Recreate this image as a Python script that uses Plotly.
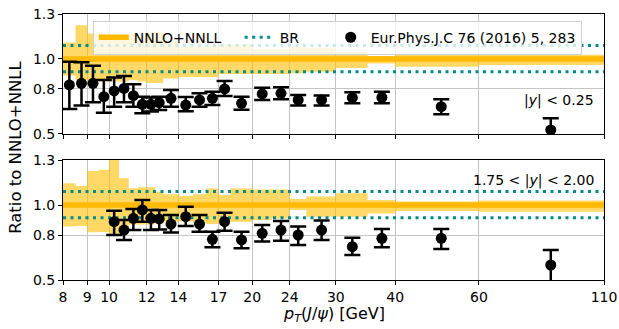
import plotly.graph_objects as go

# ---------------- data ----------------
bin_edges = [8, 8.5, 9, 9.5, 10, 10.5, 11, 11.5, 12, 12.5, 13, 14, 15, 16, 17, 18,
             20, 22, 24, 26, 30, 35, 40, 60, 110]

# theory band (ratio to central NNLO+NNLL), per bin
top_band_up = [1.11, 1.225, 1.17, 1.17, 1.16, 1.16, 1.17, 1.15, 1.18, 1.18, 1.12, 1.08,
               1.08, 1.08, 1.10, 1.10, 1.065, 1.065, 1.08, 1.075, 1.045, 1.02, 1.028, 1.028]
top_band_lo = [0.89, 0.86, 0.85, 0.85, 0.85, 0.85, 0.86, 0.85, 0.84, 0.84, 0.87, 0.88,
               0.88, 0.88, 0.90, 0.90, 0.90, 0.90, 0.905, 0.915, 0.94, 0.97, 0.948, 0.96]
bot_band_up = [1.145, 1.127, 1.227, 1.236, 1.32, 1.178, 1.111, 1.118, 1.118, 1.089, 1.071, 1.062,
               1.071, 1.11, 1.067, 1.11, 1.104, 1.104, 1.04, 1.056, 1.078, 1.033, 1.023, 1.03]
bot_band_lo = [0.856, 0.86, 0.818, 0.82, 0.80, 0.84, 0.87, 0.87, 0.87, 0.89, 0.89, 0.89,
               0.88, 0.873, 0.89, 0.889, 0.90, 0.91, 0.967, 0.922, 0.922, 0.944, 0.96, 0.955]

br_up = 1.09
br_lo = 0.915

# data: |y| < 0.25
top_pt = [8.25, 8.75, 9.25, 9.75, 10.25, 10.75, 11.25, 11.75, 12.25, 12.75, 13.5, 14.5,
          15.5, 16.5, 17.5, 19, 21, 23, 25, 28, 32.5, 37.5, 50, 85]
top_val = [0.827, 0.838, 0.838, 0.749, 0.787, 0.804, 0.755, 0.698, 0.698, 0.709, 0.738, 0.693,
           0.727, 0.738, 0.800, 0.704, 0.767, 0.771, 0.727, 0.727, 0.742, 0.744, 0.682, 0.527]
top_hi = [0.982, 0.978, 0.955, 0.860, 0.876, 0.887, 0.831, 0.749, 0.744, 0.749, 0.793, 0.747,
          0.771, 0.782, 0.853, 0.749, 0.809, 0.811, 0.760, 0.756, 0.778, 0.782, 0.731, 0.604]
top_low = [0.667, 0.689, 0.711, 0.642, 0.682, 0.711, 0.682, 0.638, 0.649, 0.660, 0.682, 0.651,
           0.682, 0.693, 0.753, 0.662, 0.727, 0.731, 0.689, 0.689, 0.704, 0.704, 0.631, 0.42]

# data: 1.75 < |y| < 2.00
bot_pt = [10.25, 10.75, 11.25, 11.75, 12.25, 12.75, 13.5, 14.5, 15.5, 16.5, 17.5, 19,
          21, 23, 25, 28, 32.5, 37.5, 50, 85]
bot_val = [0.889, 0.833, 0.911, 0.967, 0.911, 0.907, 0.873, 0.922, 0.873, 0.771, 0.889, 0.767,
           0.811, 0.833, 0.800, 0.833, 0.722, 0.778, 0.778, 0.600]
bot_hi = [0.962, 0.900, 0.973, 1.033, 0.967, 0.967, 0.933, 0.989, 0.933, 0.822, 0.949, 0.822,
          0.867, 0.893, 0.856, 0.896, 0.782, 0.840, 0.840, 0.700]
bot_low = [0.800, 0.767, 0.833, 0.889, 0.833, 0.836, 0.816, 0.860, 0.822, 0.718, 0.829, 0.711,
           0.756, 0.762, 0.733, 0.767, 0.667, 0.718, 0.707, 0.45]

x_ticks = [8, 9, 10, 12, 14, 17, 20, 24, 30, 40, 60, 110]
y_ticks = [0.5, 0.8, 1.0, 1.3]
y_ticklabels = ["0.5", "0.8", "1.0", "1.3"]

# ---------------- styles ----------------
FONT = "DejaVu Sans"
BAND = "rgba(255,190,0,0.6)"
CENTRAL = "rgb(255,185,0)"
TEAL = "#008b8b"
NB = "\u00a0"

fig = go.Figure()


def add_panel(xa, ya, band_up, band_lo, pt, val, hi, low, legend):
    # band edges as step lines
    fig.add_trace(go.Scatter(x=bin_edges, y=band_lo + [band_lo[-1]], mode="lines",
                             line=dict(width=0, shape="hv", color=BAND),
                             xaxis=xa, yaxis=ya, showlegend=False, hoverinfo="skip"))
    fig.add_trace(go.Scatter(x=bin_edges, y=band_up + [band_up[-1]], mode="lines",
                             line=dict(width=0, shape="hv", color=BAND),
                             fill="tonexty", fillcolor=BAND,
                             xaxis=xa, yaxis=ya, showlegend=False, hoverinfo="skip"))
    fig.add_trace(go.Scatter(x=[bin_edges[0], bin_edges[-1]], y=[1.0, 1.0], mode="lines",
                             line=dict(width=5.5, color=CENTRAL), name="NNLO+NNLL" + NB * 3,
                             xaxis=xa, yaxis=ya, showlegend=legend))
    fig.add_trace(go.Scatter(x=[bin_edges[0], bin_edges[-1], None, bin_edges[0], bin_edges[-1]],
                             y=[br_up, br_up, None, br_lo, br_lo], mode="lines",
                             line=dict(width=3, color=TEAL, dash="3px,4.5px"), name="BR" + NB * 6,
                             xaxis=xa, yaxis=ya, showlegend=legend))
    fig.add_trace(go.Scatter(x=pt, y=val, mode="markers",
                             marker=dict(size=11, color="black"),
                             error_y=dict(type="data", symmetric=False,
                                          array=[h - v for h, v in zip(hi, val)],
                                          arrayminus=[v - l for v, l in zip(val, low)],
                                          color="black", thickness=2.5, width=8),
                             name="Eur.Phys.J.C 76 (2016) 5, 283",
                             xaxis=xa, yaxis=ya, showlegend=legend))


add_panel("x", "y", top_band_up, top_band_lo, top_pt, top_val, top_hi, top_low, True)
add_panel("x2", "y2", bot_band_up, bot_band_lo, bot_pt, bot_val, bot_hi, bot_low, False)

axis_common = dict(showline=True, linecolor="black", linewidth=1, mirror=True,
                   ticks="outside", ticklen=4, tickcolor="black",
                   showgrid=True, gridcolor="#c4c4c4", gridwidth=1, zeroline=False,
                   automargin=False,
                   tickfont=dict(family=FONT, size=14, color="black"))

xa_common = dict(type="log", range=[0.90309, 2.041393], tickvals=x_ticks,
                 ticktext=[str(t) for t in x_ticks], **axis_common)
ya_common = dict(range=[0.5, 1.3], tickvals=y_ticks, ticktext=y_ticklabels, **axis_common)

fig.update_layout(
    width=619, height=329,
    margin=dict(l=63, r=15, t=14, b=49, autoexpand=False),
    paper_bgcolor="white", plot_bgcolor="white",
    font=dict(family=FONT, size=14, color="black"),
    xaxis=dict(domain=[0, 1], anchor="y", showticklabels=False, matches="x2", **xa_common),
    yaxis=dict(domain=[0.549, 1.0], anchor="x", **ya_common),
    xaxis2=dict(domain=[0, 1], anchor="y2", **xa_common),
    yaxis2=dict(domain=[0, 0.451], anchor="x2", **ya_common),
    legend=dict(orientation="h", x=0.055, y=0.975, xanchor="left", yanchor="top",
                bgcolor="rgba(255,255,255,0.8)", bordercolor="#d0d0d0", borderwidth=1,
                font=dict(family=FONT, size=14), itemwidth=30, traceorder="normal"),
    showlegend=True,
    annotations=[
        dict(text="|<i>y</i>| &lt; 0.25", xref="x domain", yref="y domain",
             x=0.985, y=0.28, xanchor="right", yanchor="middle", showarrow=False,
             font=dict(family=FONT, size=14)),
        dict(text="1.75 &lt; |<i>y</i>| &lt; 2.00", xref="x2 domain", yref="y2 domain",
             x=0.985, y=0.83, xanchor="right", yanchor="middle", showarrow=False,
             font=dict(family=FONT, size=14)),
        dict(text="Ratio to NNLO+NNLL", xref="paper", yref="paper",
             x=-0.089, y=0.5, xanchor="center", yanchor="middle", textangle=-90,
             showarrow=False, font=dict(family=FONT, size=16.5)),
        dict(text="<i>p</i><sub><i>T</i></sub>(<i>J</i>/<i>ψ</i>) [GeV]",
             xref="paper", yref="paper", x=0.5, y=-0.13,
             xanchor="center", yanchor="middle", showarrow=False,
             font=dict(family=FONT, size=16)),
    ],
)

fig.write_html("out.html", config={"displayModeBar": False},
               post_script="document.body.style.margin='0';")
